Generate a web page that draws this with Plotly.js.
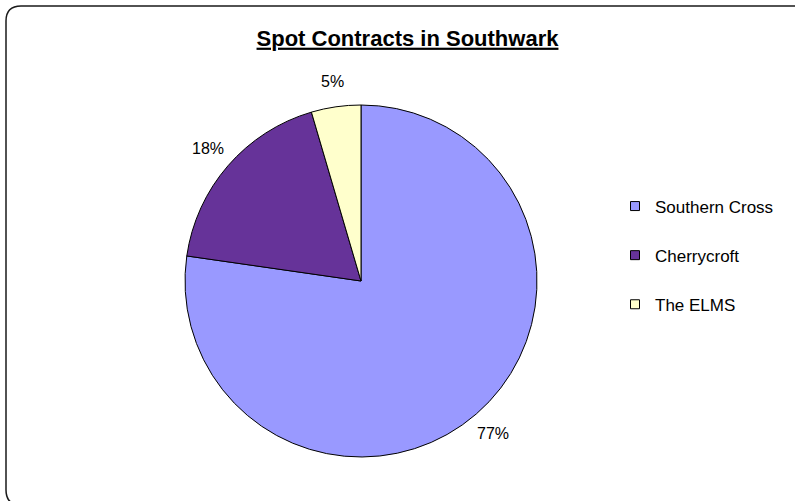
<!DOCTYPE html>
<html>
<head>
<meta charset="utf-8">
<script src="https://cdn.plot.ly/plotly-3.0.1.min.js"></script>
<style>html,body{margin:0;padding:0;background:#fff;}#chart{width:795px;height:501px;}</style>
</head>
<body>
<div id="chart"></div>
<script>
var categories = ["Southern Cross", "Cherrycroft", "The ELMS"];
var contracts = [17, 4, 1];
var sliceColors = ["#9999FF", "#663399", "#FFFFCC"];
var chartTitle = "Spot Contracts in Southwark";

var W = 795, H = 501;
function px(x) { return x / W; }
function py(y) { return 1 - y / H; }

// pie geometry (pixels)
var CX = 361, CY = 281, RAD = 176, LABEL_OFF = 26;

var pie = {
  type: "pie",
  labels: categories,
  values: contracts,
  sort: false,
  direction: "clockwise",
  rotation: 0,
  marker: { colors: sliceColors, line: { color: "#000000", width: 1 } },
  textinfo: "none",
  showlegend: false,
  hoverinfo: "label+value+percent",
  domain: { x: [px(CX - RAD), px(CX + RAD)], y: [py(CY + RAD), py(CY - RAD)] }
};

var traces = [pie];
categories.forEach(function (c, i) {
  traces.push({
    type: "scatter",
    mode: "markers",
    x: [null], y: [null],
    name: c,
    legendgroup: "g" + i,
    marker: { symbol: "square", size: 9, color: sliceColors[i], line: { color: "#000000", width: 1 } },
    showlegend: true,
    hoverinfo: "skip"
  });
});

// percentage labels placed outside each slice, from the data
var total = contracts.reduce(function (a, b) { return a + b; }, 0);
var cum = 0;
var annotations = contracts.map(function (v) {
  var mid = (cum + v / 2) / total;
  cum += v;
  var ang = mid * 2 * Math.PI;
  var rr = RAD + LABEL_OFF;
  return {
    xref: "paper", yref: "paper",
    x: px(CX + rr * Math.sin(ang)), y: py(CY - rr * Math.cos(ang)),
    xanchor: "center", yanchor: "middle",
    text: Math.round(100 * v / total) + "%",
    showarrow: false,
    font: { family: "Liberation Sans, Arial, sans-serif", size: 16, color: "#000000" }
  };
});

function seg(x, y) { return px(x) + "," + py(y); }
var L = 6, T = 6, R = 808, B = 505, r = 15;
var border = "M" + seg(L + r, T) + " L" + seg(R - r, T) + " Q" + seg(R, T) + " " + seg(R, T + r) +
  " L" + seg(R, B - r) + " Q" + seg(R, B) + " " + seg(R - r, B) +
  " L" + seg(L + r, B) + " Q" + seg(L, B) + " " + seg(L, B - r) +
  " L" + seg(L, T + r) + " Q" + seg(L, T) + " " + seg(L + r, T) + " Z";

var layout = {
  width: W, height: H,
  margin: { l: 0, r: 0, t: 0, b: 0 },
  paper_bgcolor: "#ffffff",
  plot_bgcolor: "#ffffff",
  font: { family: "Liberation Sans, Arial, sans-serif", color: "#000000" },
  title: {
    text: "<b>" + chartTitle + "</b>",
    font: { family: "Liberation Sans, Arial, sans-serif", size: 22, color: "#000000", lineposition: "under" },
    x: px(407.5), xanchor: "center", xref: "paper",
    y: py(38), yanchor: "middle", yref: "paper"
  },
  xaxis: { visible: false },
  yaxis: { visible: false },
  showlegend: true,
  legend: {
    x: px(615), xanchor: "left",
    y: py(255.5), yanchor: "middle",
    font: { family: "Liberation Sans, Arial, sans-serif", size: 17, color: "#000000" },
    tracegroupgap: 24,
    bgcolor: "rgba(0,0,0,0)",
    borderwidth: 0
  },
  annotations: annotations,
  shapes: [{
    type: "path", xref: "paper", yref: "paper", path: border,
    line: { color: "#1a1a1a", width: 1.5 }, fillcolor: "rgba(0,0,0,0)", layer: "below"
  }]
};

Plotly.newPlot("chart", traces, layout, { displayModeBar: false, staticPlot: true });
</script>
</body>
</html>
